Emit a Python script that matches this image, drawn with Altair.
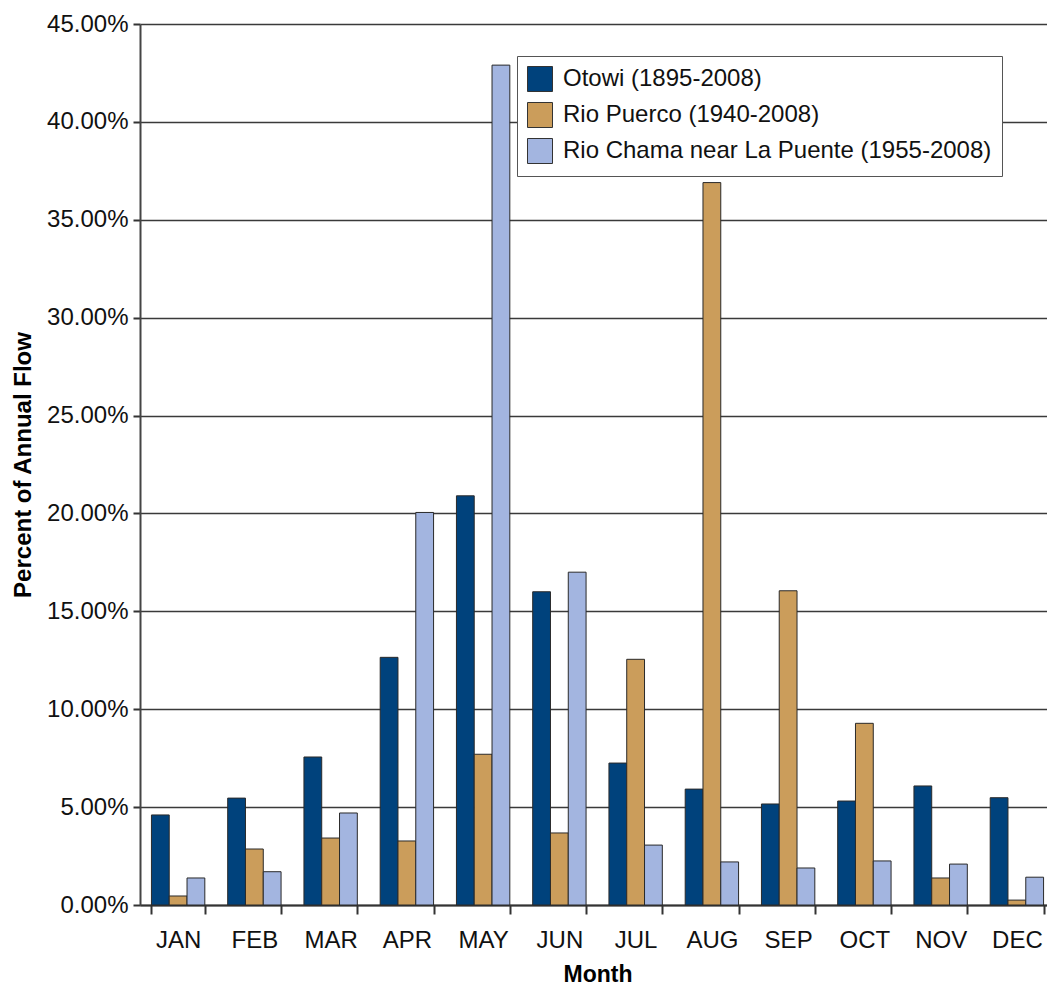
import altair as alt
import pandas as pd

months = ["JAN", "FEB", "MAR", "APR", "MAY", "JUN", "JUL", "AUG", "SEP", "OCT", "NOV", "DEC"]
series = ["Otowi (1895-2008)", "Rio Puerco (1940-2008)", "Rio Chama near La Puente (1955-2008)"]
otowi = [4.60, 5.46, 7.56, 12.65, 20.90, 16.00, 7.25, 5.92, 5.16, 5.31, 6.08, 5.48]
puerco = [0.46, 2.86, 3.42, 3.27, 7.70, 3.68, 12.55, 36.90, 16.05, 9.28, 1.38, 0.25]
chama = [1.38, 1.70, 4.70, 20.05, 42.90, 17.00, 3.06, 2.20, 1.89, 2.25, 2.09, 1.42]
colors = ["#00427C", "#CB9D5B", "#A3B5E0"]
y_ticks = [0, 5, 10, 15, 20, 25, 30, 35, 40, 45]

rows = []
for name, vals in zip(series, [otowi, puerco, chama]):
    for m, v in zip(months, vals):
        rows.append({"Month": m, "Series": name, "Value": v})
df = pd.DataFrame(rows)

FONT = "Liberation Sans"

chart = alt.Chart(df).mark_bar(stroke="#2a2a2a", strokeWidth=1).encode(
    x=alt.X(
        "Month:N",
        sort=months,
        scale=alt.Scale(paddingInner=0.3, paddingOuter=0.15),
        axis=alt.Axis(
            title="Month",
            labelAngle=0,
            tickBand="extent",
            labelFont=FONT,
            labelFontSize=24,
            labelColor="#111",
            labelPadding=14,
            tickSize=9,
            tickColor="#333",
            tickWidth=2,
            domainColor="#333",
            domainWidth=2,
            titleFont=FONT,
            titleFontSize=23,
            titleFontWeight="bold",
            titleColor="#000",
            titlePadding=11,
            grid=False,
        ),
    ),
    xOffset=alt.XOffset("Series:N", sort=series, scale=alt.Scale(paddingInner=0, paddingOuter=0)),
    y=alt.Y(
        "Value:Q",
        scale=alt.Scale(domain=[0, 45], nice=False),
        axis=alt.Axis(
            title="Percent of Annual Flow",
            values=y_ticks,
            labelExpr="format(datum.value, '.2f') + '%'",
            labelFont=FONT,
            labelFontSize=24,
            labelColor="#111",
            labelPadding=5,
            tickSize=7,
            tickColor="#333",
            tickWidth=2,
            domainColor="#444",
            domainWidth=2,
            gridColor="#3a3a3a",
            gridWidth=1.5,
            titleFont=FONT,
            titleFontSize=24,
            titleFontWeight="bold",
            titleColor="#000",
            titlePadding=11,
        ),
    ),
    color=alt.Color(
        "Series:N",
        sort=series,
        scale=alt.Scale(domain=series, range=colors),
        legend=alt.Legend(
            title=None,
            orient="none",
            legendX=377,
            legendY=32,
            fillColor="white",
            strokeColor="#555",
            padding=10,
            symbolType="square",
            symbolSize=625,
            symbolStrokeColor="#333",
            symbolStrokeWidth=1,
            symbolOpacity=1,
            labelFont=FONT,
            labelFontSize=24,
            labelColor="#111",
            labelOffset=10,
            rowPadding=6,
            labelLimit=600,
        ),
    ),
).properties(
    width=915,
    height=881,
    autosize=alt.AutoSizeParams(type="none"),
    padding={"left": 132, "top": 16, "right": -8, "bottom": 81},
).configure_view(stroke=None)

chart.save("out.html", embed_options={"renderer": "svg", "actions": False})
